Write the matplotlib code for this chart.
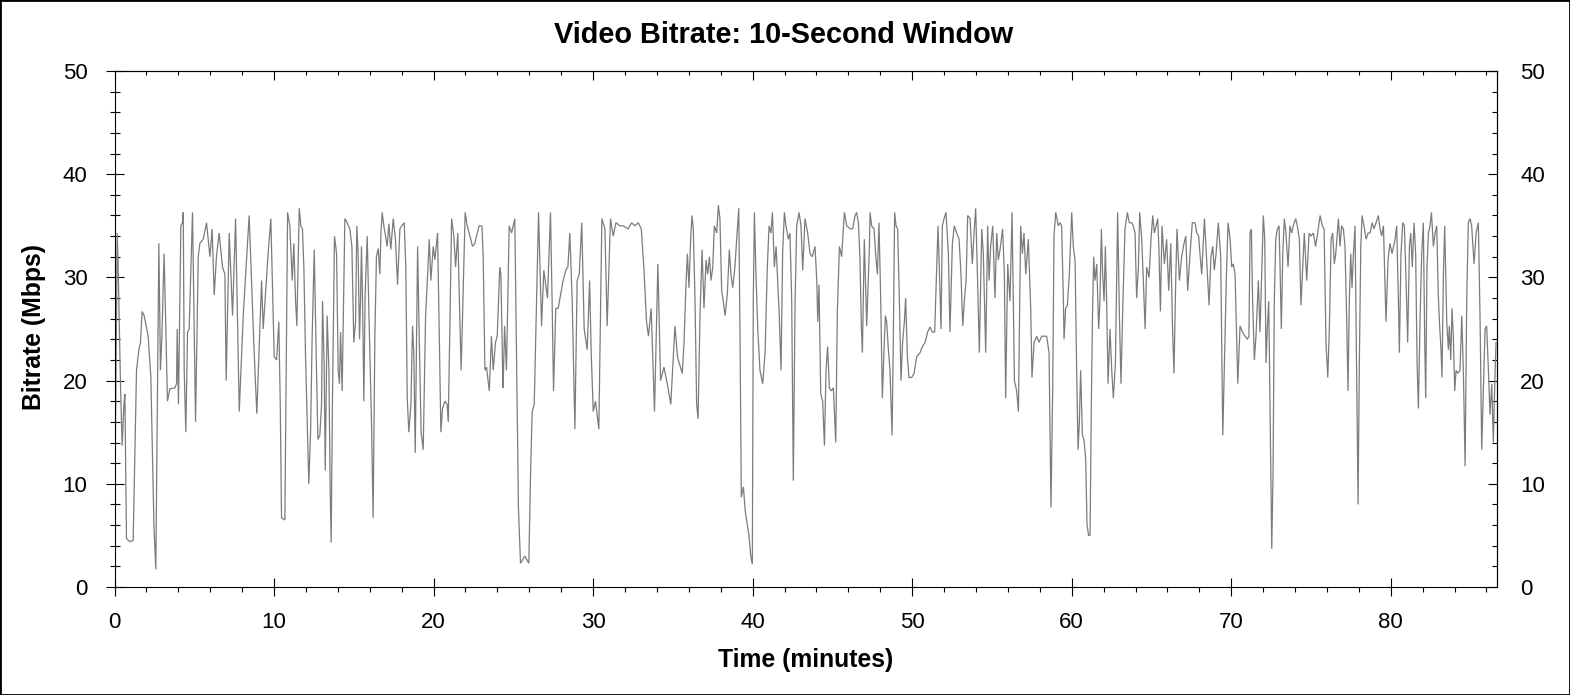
import matplotlib
matplotlib.use("Agg")
import matplotlib.pyplot as plt
from matplotlib.patches import Rectangle
from matplotlib.ticker import MultipleLocator

plt.rcParams["font.family"] = ["Liberation Sans", "DejaVu Sans"]

# (minute, Mbps) points, split by time range
seg_00_12 = [
    (0.00, 4.3), (0.17, 34.3), (0.23, 31.0), (0.27, 27.7), (0.38, 19.3), (0.48, 13.7),
    (0.59, 17.7), (0.65, 18.7), (0.75, 4.7), (0.96, 4.4), (1.17, 4.5), (1.38, 21.0),
    (1.53, 23.0), (1.63, 23.7), (1.73, 26.7), (1.86, 26.3), (2.11, 24.3), (2.28, 20.3),
    (2.38, 12.7), (2.47, 6.0), (2.59, 1.7), (2.78, 33.3), (2.88, 21.0), (2.97, 24.3),
    (3.11, 32.3), (3.22, 25.0), (3.32, 18.0), (3.47, 19.2), (3.78, 19.3), (3.89, 19.7),
    (3.93, 25.0), (4.01, 17.7), (4.16, 35.0), (4.26, 35.3), (4.31, 36.3), (4.37, 21.0),
    (4.47, 15.0), (4.58, 24.7), (4.68, 25.0), (4.89, 36.3), (4.97, 27.7), (5.08, 16.0),
    (5.25, 32.0), (5.35, 33.3), (5.56, 33.7), (5.77, 35.3), (5.98, 32.0), (6.12, 34.7),
    (6.25, 28.3), (6.39, 32.0), (6.56, 34.3), (6.77, 31.0), (6.92, 30.3), (7.00, 20.0),
    (7.19, 34.3), (7.40, 26.3), (7.59, 35.7), (7.82, 17.0), (8.07, 26.3), (8.44, 36.0),
    (8.74, 23.3), (8.92, 16.8), (9.22, 29.7), (9.32, 25.0), (9.49, 29.0), (9.63, 32.3),
    (9.80, 35.7), (10.01, 22.3), (10.16, 22.0), (10.30, 25.7), (10.39, 17.7), (10.47, 6.7),
    (10.68, 6.5), (10.85, 36.3), (10.99, 35.0), (11.14, 29.7), (11.24, 33.3), (11.35, 27.7),
    (11.43, 25.3), (11.58, 36.7),
]
seg_12_23 = [
    (11.68, 35.0), (11.78, 34.7), (11.87, 31.0), (11.97, 22.7), (12.08, 16.0), (12.18, 10.0),
    (12.29, 15.0), (12.39, 24.3), (12.52, 32.7), (12.62, 24.3), (12.75, 14.3), (12.87, 14.7),
    (12.98, 17.7), (13.04, 27.7), (13.14, 21.7), (13.21, 11.3), (13.33, 26.3), (13.44, 21.0),
    (13.52, 9.3), (13.58, 4.3), (13.66, 17.7), (13.79, 34.0), (13.92, 32.3), (14.02, 21.0),
    (14.10, 19.7), (14.17, 24.7), (14.27, 19.0), (14.44, 35.7), (14.58, 35.3), (14.75, 34.7),
    (14.88, 33.0), (15.00, 23.7), (15.11, 25.7), (15.19, 35.0), (15.27, 32.3), (15.36, 24.0),
    (15.42, 27.7), (15.48, 33.0), (15.55, 27.7), (15.63, 18.0), (15.71, 28.3), (15.84, 34.0),
    (15.96, 25.7), (16.11, 16.0), (16.21, 6.7), (16.32, 24.3), (16.42, 32.0), (16.53, 32.8),
    (16.63, 30.3), (16.70, 34.3), (16.78, 36.3), (16.88, 35.0), (16.99, 34.0), (17.09, 33.0),
    (17.20, 35.2), (17.32, 32.7), (17.47, 35.7), (17.61, 33.7), (17.74, 29.3), (17.89, 34.7),
    (18.01, 35.0), (18.16, 35.3), (18.26, 31.0), (18.35, 18.3), (18.45, 15.0), (18.58, 17.7),
    (18.68, 25.3), (18.76, 22.7), (18.85, 13.0), (19.00, 33.0), (19.10, 24.3), (19.22, 15.0),
    (19.35, 13.3), (19.50, 26.3), (19.62, 30.0), (19.73, 33.7), (19.83, 29.7), (19.98, 33.0),
    (20.08, 31.7), (20.25, 34.3), (20.37, 23.0), (20.46, 15.0), (20.56, 17.3), (20.71, 18.0),
    (20.85, 17.7), (20.92, 16.0), (21.02, 25.0), (21.13, 35.7), (21.27, 34.0), (21.38, 31.0),
    (21.52, 34.3), (21.63, 27.0), (21.73, 21.0), (21.86, 29.0), (21.98, 36.3), (22.11, 35.0),
    (22.28, 34.0), (22.44, 33.0), (22.59, 33.3), (22.69, 34.0), (22.86, 35.0), (23.03, 35.0),
    (23.11, 32.0), (23.22, 21.0), (23.32, 21.3),
]
seg_23_35 = [
    (23.49, 19.0), (23.63, 24.3), (23.74, 21.0), (23.88, 23.7), (23.99, 24.3), (24.15, 31.0),
    (24.22, 30.3), (24.32, 21.7), (24.36, 19.3), (24.45, 25.3), (24.57, 21.0), (24.74, 35.0),
    (24.89, 34.3), (25.09, 35.7), (25.20, 22.7), (25.32, 7.7), (25.45, 2.3), (25.72, 3.0),
    (25.97, 2.3), (26.08, 11.0), (26.18, 17.0), (26.31, 17.7), (26.58, 36.3), (26.77, 25.3),
    (26.91, 30.7), (27.14, 28.0), (27.33, 36.3), (27.43, 27.7), (27.52, 19.0), (27.66, 27.0),
    (27.81, 27.0), (27.96, 28.3), (28.12, 29.7), (28.29, 30.7), (28.42, 31.0), (28.54, 34.3),
    (28.69, 27.7), (28.86, 15.3), (29.00, 29.7), (29.13, 30.3), (29.29, 35.3), (29.44, 25.0),
    (29.63, 23.0), (29.78, 29.7), (29.88, 22.7), (30.01, 17.0), (30.15, 18.0), (30.36, 15.3),
    (30.55, 35.7), (30.74, 34.7), (30.88, 25.3), (31.09, 35.7), (31.26, 34.0), (31.43, 35.3),
    (31.68, 35.0), (31.89, 35.0), (32.20, 34.7), (32.41, 35.3), (32.62, 35.0), (32.83, 35.3),
    (33.02, 34.7), (33.18, 31.0), (33.35, 25.7), (33.47, 24.3), (33.64, 27.0), (33.85, 17.0),
    (34.06, 31.3), (34.23, 20.0), (34.44, 21.3), (34.65, 19.7), (34.87, 17.7), (35.13, 25.3),
    (35.29, 22.3),
]
seg_35_47 = [
    (35.34, 22.0), (35.59, 20.7), (35.70, 23.7), (35.82, 29.3), (35.91, 32.3), (36.01, 29.0),
    (36.12, 34.0), (36.20, 36.0), (36.28, 34.7), (36.39, 27.7), (36.49, 17.7), (36.58, 16.3),
    (36.70, 26.3), (36.83, 32.7), (36.95, 27.0), (37.08, 31.7), (37.18, 30.3), (37.29, 32.0),
    (37.39, 29.7), (37.50, 31.0), (37.60, 35.0), (37.75, 34.3), (37.85, 37.0), (37.95, 35.7),
    (38.06, 28.7), (38.16, 27.7), (38.27, 26.3), (38.41, 28.3), (38.54, 32.7), (38.64, 30.3),
    (38.75, 29.0), (38.89, 31.0), (39.00, 33.7), (39.13, 36.7), (39.21, 24.3), (39.29, 8.7),
    (39.42, 9.7), (39.54, 7.3), (39.67, 6.0), (39.77, 5.0), (39.88, 3.0), (39.98, 2.2),
    (40.04, 27.7), (40.11, 36.3), (40.21, 30.3), (40.32, 25.0), (40.46, 21.0), (40.63, 19.7),
    (40.78, 22.7), (40.92, 31.0), (41.03, 35.0), (41.15, 34.3), (41.24, 36.3), (41.36, 31.0),
    (41.47, 33.0), (41.55, 30.3), (41.67, 26.3), (41.78, 21.0), (41.88, 32.3), (41.99, 36.3),
    (42.09, 35.0), (42.24, 33.7), (42.34, 34.3), (42.45, 27.7), (42.55, 10.3), (42.66, 27.7),
    (42.76, 35.0), (42.91, 36.3), (43.03, 35.0), (43.14, 30.7), (43.28, 35.7), (43.45, 34.3),
    (43.60, 32.3), (43.74, 32.0), (43.91, 33.0), (44.02, 29.7), (44.08, 25.7), (44.16, 29.3),
    (44.27, 18.7), (44.39, 18.0), (44.50, 13.7), (44.60, 21.0), (44.70, 23.3), (44.81, 19.3),
    (44.93, 19.0), (45.06, 19.3), (45.21, 14.0), (45.31, 26.7), (45.44, 33.0), (45.58, 32.0),
    (45.75, 36.3), (45.90, 35.0), (46.11, 34.7), (46.27, 34.7), (46.42, 36.0), (46.52, 36.3),
    (46.63, 35.3), (46.73, 31.7), (46.82, 25.0), (46.88, 22.7), (47.00, 33.7), (47.15, 25.3),
    (47.32, 33.0),
]
seg_47_59 = [
    (47.36, 36.3), (47.46, 35.0), (47.61, 34.7), (47.71, 32.3), (47.82, 30.3), (47.92, 35.3),
    (48.03, 27.7), (48.13, 18.3), (48.23, 22.7), (48.32, 26.3), (48.40, 25.7), (48.51, 23.0),
    (48.61, 21.0), (48.74, 14.7), (48.82, 24.3), (48.90, 36.3), (48.99, 35.0), (49.09, 34.7),
    (49.20, 27.7), (49.30, 20.0), (49.40, 23.7), (49.51, 25.7), (49.59, 28.0), (49.70, 22.3),
    (49.80, 20.3), (49.97, 20.3), (50.12, 20.7), (50.28, 22.3), (50.49, 22.7), (50.64, 23.3),
    (50.81, 23.7), (50.97, 24.7), (51.12, 25.2), (51.26, 24.7), (51.41, 24.7), (51.54, 31.0),
    (51.62, 35.0), (51.70, 31.0), (51.81, 25.0), (51.89, 35.0), (52.00, 35.7), (52.12, 36.3),
    (52.27, 32.3), (52.37, 24.7), (52.52, 33.3), (52.64, 35.0), (52.79, 34.3), (52.94, 33.7),
    (53.06, 30.3), (53.17, 25.3), (53.27, 27.7), (53.38, 29.7), (53.48, 36.0), (53.63, 35.7),
    (53.77, 31.3), (53.88, 34.3), (53.98, 36.7), (54.09, 30.3), (54.21, 22.7), (54.36, 34.7),
    (54.46, 32.3), (54.61, 22.7), (54.73, 35.0), (54.82, 29.7), (54.92, 33.0), (55.05, 35.0),
    (55.19, 28.0), (55.30, 34.3), (55.40, 31.7), (55.51, 32.7), (55.67, 34.7), (55.78, 30.3),
    (55.86, 18.3), (55.99, 31.3), (56.13, 27.7), (56.26, 36.3), (56.41, 20.0), (56.55, 19.0),
    (56.66, 17.0), (56.80, 35.0), (56.91, 32.3), (57.01, 34.3), (57.12, 30.3), (57.28, 33.7),
    (57.43, 27.0), (57.51, 20.3), (57.64, 23.7), (57.81, 24.3), (57.95, 23.7), (58.12, 24.3),
    (58.27, 24.3), (58.43, 24.3), (58.58, 22.7), (58.70, 7.7), (58.81, 19.3), (58.89, 34.0),
    (59.00, 36.3), (59.16, 35.0),
]
seg_59_71 = [
    (59.27, 35.3), (59.37, 35.0), (59.48, 27.7), (59.52, 24.0), (59.62, 27.0), (59.73, 27.3),
    (59.85, 30.3), (60.00, 36.3), (60.10, 33.0), (60.21, 31.7), (60.31, 21.0), (60.40, 13.3),
    (60.48, 16.0), (60.56, 21.0), (60.67, 14.7), (60.77, 14.3), (60.88, 12.3), (60.96, 6.0),
    (61.06, 5.0), (61.15, 5.0), (61.23, 17.7), (61.31, 27.0), (61.38, 32.0), (61.46, 29.7),
    (61.57, 31.3), (61.69, 25.0), (61.77, 27.7), (61.86, 34.7), (61.94, 30.3), (62.03, 27.7),
    (62.11, 33.0), (62.19, 27.7), (62.28, 19.7), (62.40, 25.0), (62.51, 21.0), (62.61, 18.3),
    (62.74, 21.7), (62.88, 36.3), (62.99, 26.3), (63.09, 19.7), (63.20, 27.0), (63.34, 34.7),
    (63.49, 36.3), (63.61, 35.3), (63.76, 35.3), (63.86, 35.0), (63.97, 34.3), (64.07, 28.0),
    (64.18, 31.0), (64.26, 36.3), (64.39, 33.7), (64.49, 29.7), (64.60, 25.0), (64.70, 31.0),
    (64.85, 30.0), (64.97, 33.7), (65.08, 36.0), (65.18, 34.3), (65.29, 35.0), (65.39, 35.7),
    (65.47, 32.7), (65.56, 26.7), (65.66, 35.0), (65.81, 31.3), (65.95, 33.7), (66.08, 28.7),
    (66.21, 33.3), (66.31, 25.7), (66.41, 20.7), (66.52, 29.7), (66.60, 34.7), (66.75, 29.7),
    (66.89, 32.0), (67.04, 33.3), (67.15, 34.0), (67.27, 28.7), (67.42, 32.3), (67.56, 35.3),
    (67.73, 35.3), (67.84, 34.3), (67.96, 34.0), (68.04, 32.3), (68.15, 30.3), (68.32, 35.7),
    (68.46, 31.7), (68.61, 27.3), (68.73, 32.0), (68.84, 33.0), (68.94, 30.7), (69.05, 32.3),
    (69.19, 35.3), (69.34, 32.0), (69.47, 14.7), (69.59, 22.7), (69.70, 30.3), (69.80, 35.3),
    (69.93, 33.7), (70.03, 31.0), (70.13, 31.3), (70.24, 30.3), (70.41, 19.7), (70.55, 25.3),
    (70.70, 24.7), (70.87, 24.3), (71.01, 24.0),
]
seg_71_83 = [
    (71.11, 24.3), (71.18, 34.3), (71.26, 34.7), (71.34, 27.7), (71.45, 22.0), (71.55, 24.3),
    (71.70, 29.7), (71.80, 24.7), (71.91, 30.3), (72.01, 36.0), (72.10, 33.7), (72.18, 21.7),
    (72.26, 25.0), (72.35, 27.7), (72.43, 17.7), (72.54, 3.7), (72.62, 11.0), (72.70, 27.7),
    (72.79, 33.7), (72.89, 34.7), (73.00, 35.0), (73.06, 31.0), (73.14, 25.0), (73.23, 32.3),
    (73.33, 35.7), (73.43, 34.3), (73.56, 31.0), (73.68, 35.0), (73.79, 34.3), (73.89, 35.0),
    (74.04, 35.7), (74.14, 35.0), (74.27, 33.7), (74.37, 27.3), (74.46, 30.3), (74.58, 34.3),
    (74.73, 29.7), (74.88, 34.3), (75.00, 34.0), (75.15, 34.3), (75.29, 33.0), (75.42, 34.3),
    (75.57, 36.0), (75.71, 35.0), (75.82, 34.7), (75.94, 23.7), (76.05, 20.3), (76.15, 25.0),
    (76.26, 33.7), (76.36, 34.3), (76.46, 31.3), (76.55, 32.3), (76.72, 35.7), (76.82, 33.0),
    (76.92, 35.0), (77.03, 34.7), (77.13, 33.0), (77.24, 25.7), (77.32, 19.0), (77.40, 27.7),
    (77.49, 32.3), (77.57, 29.0), (77.66, 32.3), (77.76, 35.0), (77.86, 21.0), (77.95, 8.0),
    (78.03, 21.7), (78.12, 33.0), (78.20, 36.0), (78.32, 35.0), (78.45, 33.7), (78.58, 34.3),
    (78.70, 34.3), (78.83, 35.3), (78.95, 34.7), (79.08, 35.3), (79.22, 36.0), (79.33, 34.7),
    (79.43, 34.0), (79.54, 35.0), (79.64, 29.3), (79.70, 25.7), (79.83, 31.7), (79.95, 33.3),
    (80.08, 32.3), (80.27, 33.7), (80.37, 35.0), (80.48, 27.7), (80.54, 22.7), (80.64, 32.3),
    (80.75, 35.3), (80.85, 35.0), (80.96, 29.7), (81.06, 23.7), (81.17, 33.0), (81.25, 34.3),
    (81.35, 31.0), (81.46, 35.3), (81.56, 32.3), (81.65, 21.7), (81.73, 17.3), (81.84, 26.3),
    (81.94, 32.3), (82.04, 35.3), (82.13, 23.7), (82.19, 18.3), (82.27, 31.0), (82.36, 34.3),
    (82.46, 35.0), (82.55, 36.3), (82.67, 33.0), (82.78, 34.3), (82.88, 35.0), (82.98, 28.3),
    (83.05, 25.7),
]
seg_83_87 = [
    (83.15, 23.0), (83.21, 20.3), (83.30, 30.3), (83.38, 35.0), (83.51, 25.7), (83.61, 23.0),
    (83.67, 25.3), (83.76, 22.0), (83.84, 27.0), (83.92, 24.3), (84.01, 19.0), (84.09, 21.0),
    (84.20, 20.7), (84.34, 21.0), (84.45, 26.3), (84.55, 21.0), (84.66, 11.7), (84.76, 27.7),
    (84.86, 35.3), (84.97, 35.7), (85.07, 35.0), (85.22, 31.3), (85.35, 34.3), (85.49, 35.3),
    (85.60, 25.7), (85.70, 13.3), (85.81, 19.3), (85.91, 25.0), (86.01, 25.3), (86.12, 21.0),
    (86.22, 16.7), (86.33, 19.7), (86.43, 14.0), (86.54, 21.0), (86.60, 23.7),
]

TITLE = "Video Bitrate: 10-Second Window"
XLABEL = "Time (minutes)"
YLABEL = "Bitrate (Mbps)"
X_MAX = 86.64
Y_MAX = 50

W, H = 1570, 695


def _collect():
    pts = seg_00_12 + seg_12_23 + seg_23_35 + seg_35_47 + seg_47_59 + seg_59_71 + seg_71_83 + seg_83_87
    minutes = [p[0] for p in pts]
    mbps = [p[1] for p in pts]
    return minutes, mbps


def main():
    minutes, mbps = _collect()

    fig = plt.figure(figsize=(W / 100, H / 100), dpi=100)
    # plot box in pixels: left 114.5, right 1496.7, top 71, bottom 587
    ax = fig.add_axes([114.5 / W, 1 - 587 / H, (1496.7 - 114.5) / W, (587 - 71) / H])

    ax.plot(minutes, mbps, color="#7c7c7c", linewidth=0.9, solid_joinstyle="miter")

    ax.set_xlim(0, X_MAX)
    ax.set_ylim(0, Y_MAX)
    for side in ax.spines.values():
        side.set_linewidth(0.8)

    ax.xaxis.set_major_locator(MultipleLocator(10))
    ax.xaxis.set_minor_locator(MultipleLocator(2))
    ax.yaxis.set_major_locator(MultipleLocator(10))
    ax.yaxis.set_minor_locator(MultipleLocator(2))

    ax.tick_params(axis="x", which="major", direction="inout", length=13, width=0.8,
                   labelsize=16, pad=11.3, top=False)
    ax.tick_params(axis="x", which="minor", direction="out", length=3.6, width=0.8, top=False)
    ax.tick_params(axis="y", which="major", direction="inout", length=13, width=0.8,
                   labelsize=16, pad=12.9, right=False)
    ax.tick_params(axis="y", which="minor", direction="inout", length=6.5, width=0.8, right=False)

    top = ax.secondary_xaxis("top")
    top.xaxis.set_major_locator(MultipleLocator(10))
    top.xaxis.set_minor_locator(MultipleLocator(2))
    top.tick_params(which="major", direction="in", length=6.5, width=0.8, labeltop=False)
    top.tick_params(which="minor", direction="in", length=3, width=0.8)
    top.spines["top"].set_linewidth(0.8)

    right = ax.secondary_yaxis("right")
    right.yaxis.set_major_locator(MultipleLocator(10))
    right.yaxis.set_minor_locator(MultipleLocator(2))
    right.tick_params(which="major", direction="in", length=6.5, width=0.8,
                      labelsize=16, pad=16.8)
    right.tick_params(which="minor", direction="in", length=3.6, width=0.8)
    right.spines["right"].set_linewidth(0.8)

    fig.text(784 / W, 1 - 43.3 / H, TITLE, ha="center", va="baseline",
             fontsize=20.8, fontweight="bold")
    fig.text(805.3 / W, 1 - 666.7 / H, XLABEL, ha="center", va="baseline",
             fontsize=17.8, fontweight="bold")
    fig.text(40.7 / W, 1 - 326.7 / H, YLABEL, ha="center", va="baseline",
             rotation=90, rotation_mode="anchor", fontsize=17.8, fontweight="bold")

    # thin black frame round the whole picture
    fig.add_artist(Rectangle((0, 0), 1, 1, transform=fig.transFigure, fill=False,
                             edgecolor="black", linewidth=2))

    fig.savefig("out.png", dpi=100, facecolor="white")
    plt.close(fig)


if __name__ == "__main__":
    main()
